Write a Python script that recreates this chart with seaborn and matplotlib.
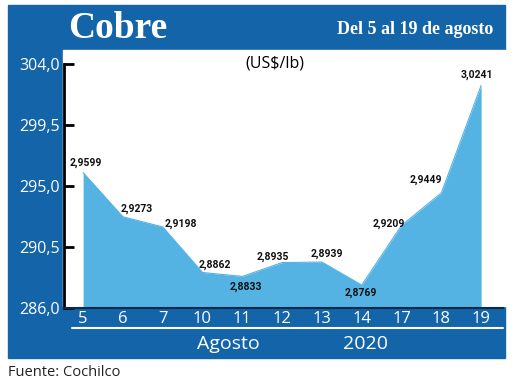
import matplotlib
matplotlib.use("Agg")
import matplotlib.pyplot as plt
import matplotlib.patches as mpatches
import numpy as np
import pandas as pd
import seaborn as sns

# data (US$/lb, axis shown in cents)
days = ["5", "6", "7", "10", "11", "12", "13", "14", "17", "18", "19"]
prices = [2.9599, 2.9273, 2.9198, 2.8862, 2.8833, 2.8935, 2.8939, 2.8769, 2.9209, 2.9449, 3.0241]
price_labels = ["2,9599", "2,9273", "2,9198", "2,8862", "2,8833", "2,8935",
                "2,8939", "2,8769", "2,9209", "2,9449", "3,0241"]
y_ticks = [286.0, 290.5, 295.0, 299.5, 304.0]
y_tick_labels = ["286,0", "290,5", "295,0", "299,5", "304,0"]

# label offsets in pixels (dx, dy)
label_offsets = [(3, 10), (14, 8), (18, 3), (12, 8), (4, -10), (-9, 6),
                 (5, 8), (-1, -8), (-13, 2), (-15, 13), (-4, 11)]

BLUE = "#1464a9"
FILL = "#55b3e4"

df = pd.DataFrame({"pos": np.arange(len(days)), "cents": np.array(prices) * 100})

sns.set_theme(style="white")
plt.rcParams["font.family"] = ["Open Sans", "DejaVu Sans"]

W, H = 520, 384
fig = plt.figure(figsize=(W / 100, H / 100), dpi=100)
fig.patch.set_facecolor("white")


def fx(px):
    return px / W


def fy(py):
    return 1 - py / H


# blue frame and white plot panel (behind the axes)
fig.patches.append(mpatches.Rectangle((fx(8), fy(358)), fx(497), (358 - 5) / H,
                                      transform=fig.transFigure, color=BLUE, zorder=-2))
fig.patches.append(mpatches.Rectangle((fx(63), fy(306)), fx(445), (306 - 50) / H,
                                      transform=fig.transFigure, color="white", zorder=-1))

ax = fig.add_axes([fx(64), fy(308), fx(503 - 64), (308 - 64) / H])
ax.set_facecolor("none")

sns.lineplot(data=df, x="pos", y="cents", color=FILL, linewidth=0.8, ax=ax)
ax.fill_between(df["pos"], df["cents"], 286, color=FILL, linewidth=0)

for i, (x, y) in enumerate(zip(df["pos"], df["cents"])):
    dx, dy = label_offsets[i]
    ax.annotate(price_labels[i], (x, y), xytext=(dx * 0.72, dy * 0.72),
                textcoords="offset points", ha="center", va="center",
                fontsize=7.5, fontweight="bold", family=["Roboto", "DejaVu Sans"],
                color="#111111")

ax.set_xlim(-0.48, 10.55)
ax.set_ylim(286, 304)
ax.set_yticks(y_ticks)
ax.set_yticklabels(y_tick_labels)
ax.set_xticks(df["pos"])
ax.set_xticklabels(days)
ax.set_xlabel("")
ax.set_ylabel("")
ax.tick_params(axis="y", direction="in", length=7, width=2, color="black",
               labelcolor="white", labelsize=11.5, pad=3, left=True)
ax.tick_params(axis="x", length=0, labelcolor="white", labelsize=12, pad=2)
for side in ["top", "right"]:
    ax.spines[side].set_visible(False)
ax.spines["left"].set_color("black")
ax.spines["left"].set_linewidth(2)
ax.spines["bottom"].set_color("#0a2a4a")
ax.spines["bottom"].set_linewidth(1.5)

# white separator under the day labels
fig.add_artist(plt.Line2D([fx(72), fx(503)], [fy(328), fy(328)],
                          transform=fig.transFigure, color="white", linewidth=1.5))

# header
fig.text(fx(68), fy(29), "Cobre", color="white", fontsize=27, fontweight="bold",
         family=["Liberation Serif", "DejaVu Serif"], ha="left", va="center")
fig.text(fx(493), fy(29), "Del 5 al 19 de agosto", color="white", fontsize=13,
         fontweight="bold", family=["Liberation Serif", "DejaVu Serif"],
         ha="right", va="center")
fig.text(fx(275), fy(64), "(US$/lb)", color="black", fontsize=11.5,
         ha="center", va="center")

fig.text(fx(228), fy(344), "Agosto", color="white", fontsize=14,
         ha="center", va="center")
fig.text(fx(365), fy(344), "2020", color="white", fontsize=14,
         ha="center", va="center")

fig.text(fx(8), fy(372), "Fuente: Cochilco", color="#222222", fontsize=10.5,
         ha="left", va="center")

fig.savefig("out.png", dpi=100)
